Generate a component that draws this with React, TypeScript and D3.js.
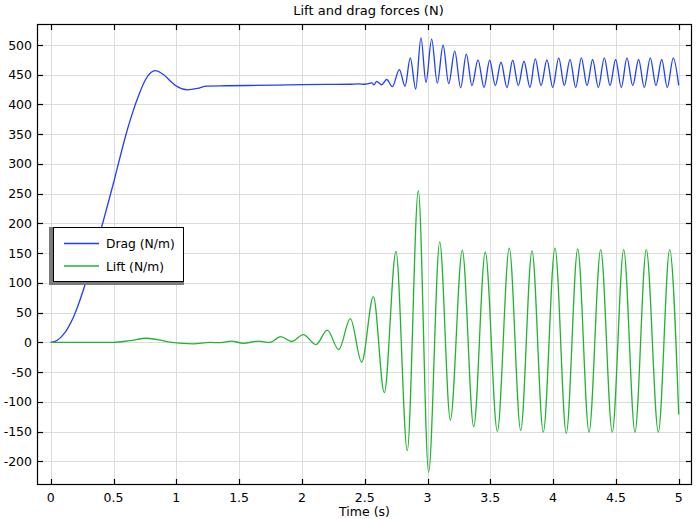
import React from "react";
import * as d3 from "d3";

// ---- data ----
const dragTime = [
  0, 0.05, 0.1, 0.18, 0.26, 0.34, 0.42, 0.5, 0.56, 0.6, 0.65, 0.7, 0.75, 0.8, 0.83, 0.9, 0.95, 1.0, 1.09, 1.17, 1.24,
  1.4, 1.8, 2.0, 2.2, 2.38, 2.45, 2.5, 2.556, 2.575, 2.595, 2.635, 2.675, 2.72, 2.776, 2.821, 2.863, 2.906,
  2.948, 2.988, 3.033, 3.078, 3.124, 3.169, 3.217, 3.264, 3.309, 3.354, 3.402, 3.45, 3.495, 3.54, 3.585,
  3.633, 3.678, 3.723, 3.768, 3.816, 3.858, 3.904, 3.951, 3.997, 4.045, 4.089, 4.135, 4.18, 4.225, 4.27,
  4.315, 4.36, 4.408, 4.453, 4.498, 4.543, 4.588, 4.634, 4.681, 4.726, 4.774, 4.819, 4.865, 4.909, 4.957, 5.0,
];
const dragValue = [
  0, 3.3, 13, 42, 88, 146, 205, 268, 318, 350, 385, 415, 440, 454, 457, 450, 440, 431, 424.6, 427, 431,
  431.5, 432.5, 433.5, 433.8, 434, 434.6, 434, 436.4, 433, 439, 433, 442, 430, 458.7, 430.6, 478.4, 426,
  512, 437, 510, 436, 499.6, 435, 489.6, 428, 484.5, 431.8, 475, 428.5, 474.4, 431.8, 471,
  428.5, 474.4, 431.8, 472.7, 428.5, 476.8, 431.8, 475, 428.5, 478.4, 431.8, 476, 428.5, 478.4, 431.8,
  475.6, 428.5, 478.4, 431.8, 475.6, 428.5, 478.4, 431.8, 475.6, 428.5, 478.4, 431.8, 475.6, 428.5, 478.4, 432,
];

const liftTime = [
  0, 0.3, 0.5, 0.63, 0.764, 0.9, 0.963, 1.135, 1.268, 1.35, 1.44, 1.534, 1.653, 1.746, 1.831, 1.919, 2.011,
  2.112, 2.202, 2.293, 2.386, 2.476, 2.569, 2.656, 2.749, 2.839, 2.927, 3.009, 3.097, 3.182, 3.277, 3.368,
  3.46, 3.556, 3.651, 3.742, 3.832, 3.922, 4.015, 4.105, 4.196, 4.286, 4.379, 4.471, 4.562, 4.652, 4.742,
  4.838, 4.928, 5.0,
];
const liftValue = [
  0, 0, 0, 3, 7, 2.5, 0, -2.5, 0, -0.5, 2, -1.5, 2, 0, 9.8, 1.5, 13,
  -3.7, 20.5, -12, 40, -33.4, 77, -84.5, 152.9, -182, 255, -218, 169, -130.5, 155, -141.7,
  151.8, -149.5, 158.6, -147.8, 154, -150.7, 158.6, -152.9, 157, -150.7, 156, -150.7, 156, -150.7, 156,
  -150.7, 156, -121,
];

const xTicks = [0, 0.5, 1, 1.5, 2, 2.5, 3, 3.5, 4, 4.5, 5];
const xTickLabels = ["0", "0.5", "1", "1.5", "2", "2.5", "3", "3.5", "4", "4.5", "5"];
const yTicks = [-200, -150, -100, -50, 0, 50, 100, 150, 200, 250, 300, 350, 400, 450, 500];

const seriesNames = ["Drag (N/m)", "Lift (N/m)"];
const seriesColors = ["#1f3fff", "#20b52f"];

const W = 696;
const H = 519;
const plot = { left: 37, right: 692, top: 24, bottom: 485 };
const FONT = "'DejaVu Sans', sans-serif";

export default function App() {
  const x = d3.scaleLinear().domain([0, 5]).range([50.7, 678.7]);
  const y = d3.scaleLinear().domain([0, 500]).range([342.4, 45]);

  const line = d3
    .line<[number, number]>()
    .x((d) => x(d[0]))
    .y((d) => y(d[1]))
    .curve(d3.curveMonotoneX);

  const dragPts = dragTime.map((t, i) => [t, dragValue[i]] as [number, number]);
  const liftPts = liftTime.map((t, i) => [t, liftValue[i]] as [number, number]);
  const series = [dragPts, liftPts];

  const tickLen = 6;

  return (
    <svg
      width={W}
      height={H}
      style={{ position: "absolute", left: 0, top: 0, background: "#fff" }}
      fontFamily={FONT}
    >
      <defs>
        <clipPath id="plotclip">
          <rect x={plot.left} y={plot.top} width={plot.right - plot.left} height={plot.bottom - plot.top} />
        </clipPath>
      </defs>
      <rect x={0} y={0} width={W} height={H} fill="#fff" />

      {/* grid */}
      <g stroke="#dcdcdc" strokeWidth={1}>
        {xTicks.map((t) => (
          <line key={"gx" + t} x1={Math.round(x(t)) + 0.5} x2={Math.round(x(t)) + 0.5} y1={plot.top} y2={plot.bottom} />
        ))}
        {yTicks.map((t) => (
          <line key={"gy" + t} y1={Math.round(y(t)) + 0.5} y2={Math.round(y(t)) + 0.5} x1={plot.left} x2={plot.right} />
        ))}
      </g>

      {/* series */}
      <g clipPath="url(#plotclip)" fill="none" strokeWidth={1.3}>
        {series.map((pts, i) => (
          <path key={i} d={line(pts) || ""} stroke={seriesColors[i]} strokeLinejoin="round" />
        ))}
      </g>

      {/* frame */}
      <rect
        x={plot.left + 0.5}
        y={plot.top + 0.5}
        width={plot.right - plot.left - 1}
        height={plot.bottom - plot.top - 1}
        fill="none"
        stroke="#000"
        strokeWidth={1.2}
      />

      {/* ticks */}
      <g stroke="#000" strokeWidth={1.2}>
        {xTicks.map((t) => {
          const px = Math.round(x(t)) + 0.5;
          return (
            <g key={"tx" + t}>
              <line x1={px} x2={px} y1={plot.bottom} y2={plot.bottom - tickLen} />
              <line x1={px} x2={px} y1={plot.top} y2={plot.top + tickLen} />
            </g>
          );
        })}
        {yTicks.map((t) => {
          const py = Math.round(y(t)) + 0.5;
          return (
            <g key={"ty" + t}>
              <line y1={py} y2={py} x1={plot.left} x2={plot.left + tickLen} />
              <line y1={py} y2={py} x1={plot.right} x2={plot.right - tickLen} />
            </g>
          );
        })}
      </g>

      {/* tick labels */}
      <g fontSize={12.5} fill="#000">
        {xTicks.map((t, i) => (
          <text key={"lx" + t} x={x(t)} y={502} textAnchor="middle">
            {xTickLabels[i]}
          </text>
        ))}
        {yTicks.map((t) => (
          <text key={"ly" + t} x={32} y={y(t) + 4.5} textAnchor="end">
            {String(t)}
          </text>
        ))}
      </g>

      {/* title & axis label */}
      <text x={(plot.left + plot.right) / 2 + 4} y={15} textAnchor="middle" fontSize={13} fill="#000">
        Lift and drag forces (N)
      </text>
      <text x={(plot.left + plot.right) / 2} y={516} textAnchor="middle" fontSize={12.5} fill="#000">
        Time (s)
      </text>

      {/* legend */}
      <g>
        <rect x={49} y={227} width={135} height={58} fill="#7a7a7a" />
        <rect x={53.5} y={227.5} width={130} height={54} fill="#fff" stroke="#000" strokeWidth={1} />
        {seriesNames.map((name, i) => (
          <g key={name}>
            <line x1={64} x2={99} y1={243.5 + i * 22.5} y2={243.5 + i * 22.5} stroke={seriesColors[i]} strokeWidth={1.3} />
            <text x={106} y={248 + i * 22.5} fontSize={12.3} fill="#000">
              {name}
            </text>
          </g>
        ))}
      </g>
    </svg>
  );
}
